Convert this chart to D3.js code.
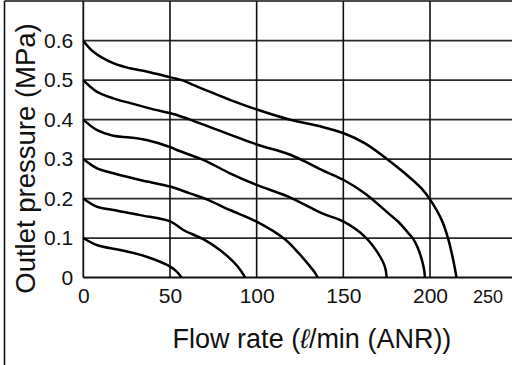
<!DOCTYPE html>
<html>
<head>
<meta charset="utf-8">
<script src="https://cdn.jsdelivr.net/npm/d3@7"></script>
<style>
  html, body { margin: 0; padding: 0; background: #fff; }
  svg { display: block; font-family: "Liberation Sans", Arial, sans-serif; }
</style>
</head>
<body>
<svg id="chart" width="512" height="365"></svg>
<script>
// ---- data ----
const xTicks = [0, 50, 100, 150, 200];
const xExtraTick = "250";
const yTicks = [0, 0.1, 0.2, 0.3, 0.4, 0.5, 0.6];
const yTickLabels = ["0", "0.1", "0.2", "0.3", "0.4", "0.5", "0.6"];

const flow06 = [0, 5.8, 17.3, 26.9, 36.5, 50.4, 57.7, 63.4, 75, 86.5, 101.9, 118.2, 137.5, 150.2, 162.5, 175.9, 185.5, 195.1, 200, 206.7, 210.5, 213.4, 215.3];
const pres06 = [0.6, 0.572, 0.543, 0.530, 0.522, 0.507, 0.499, 0.488, 0.467, 0.447, 0.423, 0.401, 0.382, 0.3655, 0.340, 0.298, 0.264, 0.226, 0.198, 0.146, 0.098, 0.044, 0];

const flow05 = [0, 7.7, 17.3, 28.8, 40.4, 50.4, 57.7, 63.4, 75, 86.5, 100, 118.2, 127.8, 137.5, 150.2, 162.5, 175.9, 182, 187, 190.3, 193, 195.1, 196.5, 197.1];
const pres05 = [0.5, 0.471, 0.454, 0.44, 0.426, 0.416, 0.406, 0.397, 0.378, 0.359, 0.337, 0.313, 0.294, 0.2725, 0.247, 0.213, 0.163, 0.140, 0.115, 0.098, 0.075, 0.048, 0.022, 0];

const flow04 = [0, 7.7, 17.3, 26.9, 36.5, 50.4, 53.9, 69.2, 84.6, 100, 118.2, 137.5, 150.2, 162.5, 170.1, 174, 175];
const pres04 = [0.4, 0.374, 0.359, 0.355, 0.3485, 0.330, 0.323, 0.298, 0.264, 0.2345, 0.205, 0.163, 0.1415, 0.103, 0.061, 0.027, 0];

const flow03 = [0, 7.7, 17.3, 32.7, 50.4, 61.5, 71.2, 84.6, 100, 116.3, 124, 131, 134, 135.2];
const pres03 = [0.3, 0.277, 0.264, 0.247, 0.230, 0.213, 0.198, 0.171, 0.1415, 0.097, 0.063, 0.027, 0.010, 0];

const flow02 = [0, 7.7, 17.3, 32.7, 50.4, 57.7, 69.2, 78.8, 86.5, 91.3, 93.3];
const pres02 = [0.2, 0.1795, 0.171, 0.158, 0.1415, 0.1204, 0.097, 0.0697, 0.040, 0.0147, 0];

const flow01 = [0, 7.7, 21.2, 36.5, 50.4, 53.9, 56.7];
const pres01 = [0.1, 0.0824, 0.0697, 0.0527, 0.027, 0.0147, 0];

const series = [
  [flow01, pres01], [flow02, pres02], [flow03, pres03],
  [flow04, pres04], [flow05, pres05], [flow06, pres06]
];

const xTitleParts = ["Flow rate (", "\u2113", "/min (ANR))"];
const yTitle = "Outlet pressure (MPa)";

// ---- layout ----
const W = 512, H = 365;
const plotLeft = 83.3, plotTop = 1, plotBottom = 277.5, plotRight = W;
const frameLeft = 4.5;

const x = d3.scaleLinear().domain([0, 200]).range([plotLeft, 430]);
const y = d3.scaleLinear().domain([0, 0.6]).range([plotBottom, 40.7]);

const svg = d3.select("#chart");

// grid: horizontal
svg.append("g").selectAll("line").data(yTicks.filter(d => d > 0)).join("line")
  .attr("x1", plotLeft).attr("x2", plotRight)
  .attr("y1", d => y(d)).attr("y2", d => y(d))
  .attr("stroke", "#2a2a2a").attr("stroke-width", 1.8);

// grid: vertical
svg.append("g").selectAll("line").data(xTicks.filter(d => d > 0)).join("line")
  .attr("x1", d => x(d)).attr("x2", d => x(d))
  .attr("y1", plotTop).attr("y2", plotBottom)
  .attr("stroke", "#111").attr("stroke-width", 1.6);

// frame lines
svg.append("line").attr("x1", frameLeft).attr("x2", W).attr("y1", plotTop).attr("y2", plotTop)
  .attr("stroke", "#111").attr("stroke-width", 1.6);
svg.append("line").attr("x1", frameLeft).attr("x2", frameLeft).attr("y1", plotTop).attr("y2", H)
  .attr("stroke", "#111").attr("stroke-width", 1.6);

// axes
const yAxis = d3.axisLeft(y).tickValues(yTicks).tickSize(0).tickPadding(10)
  .tickFormat((d, i) => yTickLabels[i]);
const gy = svg.append("g").attr("transform", `translate(${plotLeft},0)`).call(yAxis);
gy.select(".domain").remove();
gy.selectAll("text").attr("font-size", 21).attr("fill", "#111")
  .attr("font-family", "'Liberation Sans', Arial, sans-serif");

const xAxis = d3.axisBottom(x).tickValues(xTicks).tickSize(0).tickPadding(11)
  .tickFormat(d => String(d));
const gx = svg.append("g").attr("transform", `translate(0,${plotBottom})`).call(xAxis);
gx.select(".domain").remove();
gx.selectAll("text").attr("font-size", 21).attr("fill", "#111")
  .attr("font-family", "'Liberation Sans', Arial, sans-serif");

// squeezed 250 label at the right edge
svg.append("text").attr("x", x(233.4)).attr("y", 303)
  .attr("text-anchor", "middle").attr("font-size", 18).attr("fill", "#111")
  .text(xExtraTick);

// axis lines
svg.append("line").attr("x1", plotLeft).attr("x2", plotLeft).attr("y1", plotTop).attr("y2", plotBottom)
  .attr("stroke", "#111").attr("stroke-width", 1.8);
svg.append("line").attr("x1", plotLeft).attr("x2", plotRight).attr("y1", plotBottom).attr("y2", plotBottom)
  .attr("stroke", "#111").attr("stroke-width", 2);

// curves
const line = d3.line().x(d => x(d[0])).y(d => y(d[1])).curve(d3.curveCatmullRom.alpha(0.5));
svg.append("g").selectAll("path").data(series).join("path")
  .attr("d", s => line(s[0].map((f, i) => [f, s[1][i]])))
  .attr("fill", "none").attr("stroke", "#000").attr("stroke-width", 2.5)
  .attr("stroke-linejoin", "round");

// titles
const xt = svg.append("text").attr("x", 312).attr("y", 348).attr("text-anchor", "middle")
  .attr("font-size", 27).attr("fill", "#111");
xt.selectAll("tspan").data(xTitleParts).join("tspan")
  .attr("font-style", (d, i) => i === 1 ? "italic" : "normal")
  .text(d => d);
svg.append("text").attr("transform", "translate(35,158.5) rotate(-90)")
  .attr("text-anchor", "middle").attr("font-size", 27.5).attr("fill", "#111").text(yTitle);
</script>
</body>
</html>
